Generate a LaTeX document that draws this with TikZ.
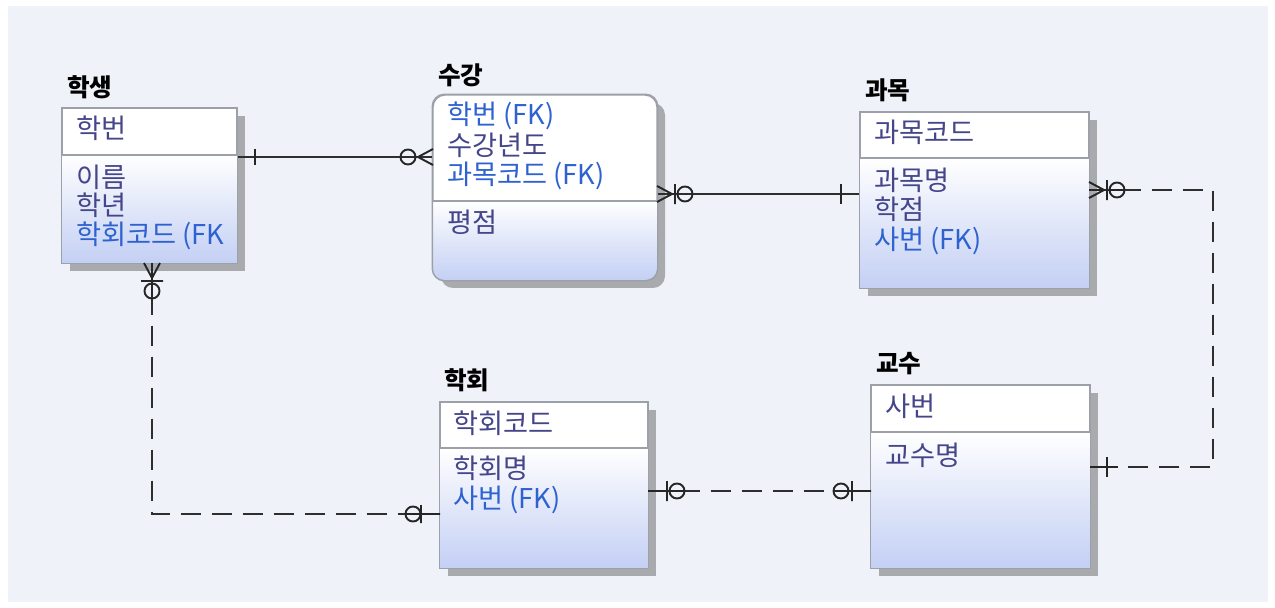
\documentclass[tikz,border=0pt]{standalone}
\usepackage{fontspec}
\setmainfont{Noto Sans CJK KR}
\usepackage{tikz}
\usetikzlibrary{fit,shadows}
\usepackage{xcolor}
\definecolor{bgblue}{HTML}{EFF3F9}
\definecolor{entblue}{HTML}{C3CFF4}
\definecolor{edgegray}{HTML}{9CA0A8}
\definecolor{shadowgray}{HTML}{A8AAAE}
\definecolor{navytext}{HTML}{45458A}
\definecolor{fkblue}{HTML}{2E62D0}
\definecolor{linegray}{HTML}{2E2E2E}

\begin{document}
\begin{tikzpicture}[x=0.02cm,y=-0.02cm,
  ent/.style={draw=edgegray,line width=0.8pt,inner sep=0pt,fill=white,
    drop shadow={shadow xshift=0.16cm,shadow yshift=-0.16cm,fill=shadowgray,opacity=1}},
  entrule/.style={draw=edgegray,line width=0.8pt},
  body/.style={top color=white,bottom color=entblue},
  ttl/.style={anchor=west,inner sep=0pt,font=\bfseries\fontsize{14}{16}\selectfont},
  att/.style={anchor=west,inner sep=0pt,text=navytext,font=\fontsize{15.5}{18}\selectfont},
  fk/.style={att,text=fkblue},
  rel/.style={draw=linegray,line width=1.1pt},
  opt/.style={rel,dash pattern=on 0.4cm off 0.22cm},
  mk/.style={draw=black!85,line width=1.1pt}]
\fill[white] (0,0) rectangle (1275,608);
\fill[bgblue] (8,6) rectangle (1268,602);
\useasboundingbox (0,0) rectangle (1275,608);

% 학생
\node[ttl] (hs-t) at (67,87) {학생};
\node[ent,fit={(62,108) (237,263)}] (hs) {};
\shade[body] (hs.west |- 0,155) rectangle (hs.south east);
\draw[entrule] (hs.north west) rectangle (hs.south east) (hs.west |- 0,155) -- (hs.east |- 0,155);
\node[att] (hs-1) at (76,128) {학번};
\node[att] (hs-2) at (76,177) {이름};
\node[att] (hs-3) at (76,205) {학년};
\node[fk] (hs-4) at (76,236) {학회코드 (FK};

% 수강
\node[ttl] (sg-t) at (438,75) {수강};
\node[ent,rounded corners=0.24cm,fit={(433,95) (657,280)}] (sg) {};
\begin{scope}
\clip[rounded corners=0.24cm] (sg.north west) rectangle (sg.south east);
\shade[body] (sg.west |- 0,201) rectangle (sg.south east);
\end{scope}
\draw[entrule,rounded corners=0.24cm] (sg.north west) rectangle (sg.south east);
\draw[entrule] (sg.west |- 0,201) -- (sg.east |- 0,201);
\node[fk] (sg-1) at (447,116) {학번 (FK)};
\node[att] (sg-2) at (447,145) {수강년도};
\node[fk] (sg-3) at (447,176) {과목코드 (FK)};
\node[att] (sg-4) at (447,222) {평점};

% 과목
\node[ttl] (gm-t) at (865,90) {과목};
\node[ent,fit={(860,112) (1089,288)}] (gm) {};
\shade[body] (gm.west |- 0,158) rectangle (gm.south east);
\draw[entrule] (gm.north west) rectangle (gm.south east) (gm.west |- 0,158) -- (gm.east |- 0,158);
\node[att] (gm-1) at (874,132) {과목코드};
\node[att] (gm-2) at (874,180) {과목명};
\node[att] (gm-3) at (874,209) {학점};
\node[fk] (gm-4) at (874,241) {사번 (FK)};

% 학회
\node[ttl] (hh-t) at (444,380) {학회};
\node[ent,fit={(440,402) (648,568)}] (hh) {};
\shade[body] (hh.west |- 0,448) rectangle (hh.south east);
\draw[entrule] (hh.north west) rectangle (hh.south east) (hh.west |- 0,448) -- (hh.east |- 0,448);
\node[att] (hh-1) at (453,423) {학회코드};
\node[att] (hh-2) at (453,468) {학회명};
\node[fk] (hh-3) at (453,500) {사번 (FK)};

% 교수
\node[ttl] (gs-t) at (876,364) {교수};
\node[ent,fit={(871,385) (1090,568)}] (gs) {};
\shade[body] (gs.west |- 0,432) rectangle (gs.south east);
\draw[entrule] (gs.north west) rectangle (gs.south east) (gs.west |- 0,432) -- (gs.east |- 0,432);
\node[att] (gs-1) at (885,406) {사번};
\node[att] (gs-2) at (885,455) {교수명};

% 학생 - 수강
\draw[rel] (hs.east |- 0,157) -- (sg.west |- 0,157);
\draw[mk] (255,149) -- (255,165);
\draw[mk] (418,157) -- (433,149) (418,157) -- (433,165) (408,157) circle[radius=0.15cm];

% 수강 - 과목
\draw[rel] (sg.east |- 0,194) -- (gm.west |- 0,194);
\draw[mk] (657,186) -- (672,194) -- (657,202) (675,184) -- (675,204) (685,194) circle[radius=0.15cm];
\draw[mk] (841,184) -- (841,204);

% 과목 - 교수
\coordinate (gmgs) at (1213,190);
\draw[opt] (gm.east |- 0,190) -- (gmgs) |- (gs.east |- 0,467);
\draw[mk] (1089,190) -- (1125,190) (1089,182) -- (1104,190) -- (1089,198) (1107,180) -- (1107,200) (1117,190) circle[radius=0.15cm];
\draw[mk] (1090,467) -- (1118,467) (1107,457) -- (1107,477);

% 학생 - 학회
\coordinate (hshh) at (152,514);
\draw[opt] (hs.south -| 152,0) -- (hshh) -- (hh.west |- 0,514);
\draw[mk] (152,263) -- (152,299) (144,263) -- (152,278) -- (160,263) (141,281) -- (163,281) (152,291) circle[radius=0.15cm];
\draw[mk] (405,514) -- (440,514) (421,505) -- (421,523) (413,514) circle[radius=0.15cm];

% 학회 - 교수
\draw[opt] (hh.east |- 0,491) -- (gs.west |- 0,491);
\draw[mk] (648,491) -- (685,491) (667,481) -- (667,501) (677,491) circle[radius=0.15cm];
\draw[mk] (833,491) -- (871,491) (852,481) -- (852,501) (841,491) circle[radius=0.15cm];
\end{tikzpicture}
\end{document}
